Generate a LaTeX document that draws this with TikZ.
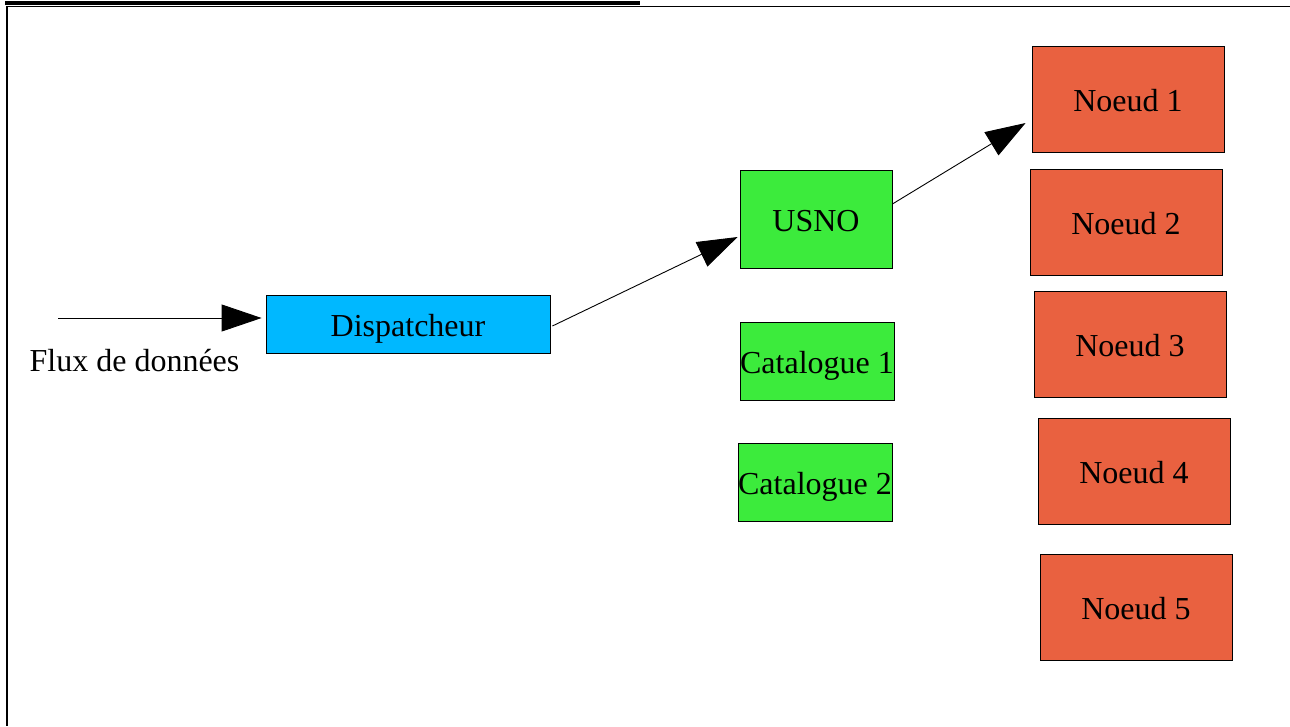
\documentclass[tikz,border=0pt]{standalone}
\usepackage{fontspec}
\setmainfont{Liberation Serif}
\usetikzlibrary{arrows.meta}
\definecolor{dispblue}{HTML}{00B8FF}
\definecolor{catgreen}{HTML}{3CEB3C}
\definecolor{noeudred}{HTML}{E96140}
\begin{document}
\begin{tikzpicture}[x=1pt,y=-1pt,
  box/.style={draw=black, line width=0.8pt, inner sep=0pt, text height=24pt, text depth=0pt, font=\fontsize{32}{38}\selectfont},
  dispbox/.style={box, fill=dispblue, minimum width=284pt, minimum height=58pt},
  catbox/.style={box, fill=catgreen, minimum width=152pt},
  noeudbox/.style={box, fill=noeudred, minimum width=192pt, minimum height=106pt},
  conn/.style={line width=0.9pt, -{Triangle[length=40pt,width=27pt]}},
  label/.style={inner sep=0pt, font=\fontsize{32}{38}\selectfont}]
\useasboundingbox (0,0) rectangle (1290,726);
% frame
\draw[line width=3.5pt] (5,3) -- (640,3);
\draw[line width=1.8pt] (6,6.5) -- (1290,6.5);
\draw[line width=2.4pt] (7,6) -- (7,726);
% nodes
\node[dispbox] (disp) at (408,324) {Dispatcheur};
\node[catbox, minimum height=98pt] (usno) at (816,219) {USNO};
\node[catbox, minimum width=154pt, minimum height=78pt] (cat1) at (817,361) {Catalogue 1};
\node[catbox, minimum width=154pt, minimum height=78pt] (cat2) at (815,482) {Catalogue 2};
\node[noeudbox] (n1) at (1128,99) {Noeud 1};
\node[noeudbox] (n2) at (1126,222) {Noeud 2};
\node[noeudbox] (n3) at (1130,344) {Noeud 3};
\node[noeudbox] (n4) at (1134,471) {Noeud 4};
\node[noeudbox] (n5) at (1136,607) {Noeud 5};
\node[label] (flux) at (134.5,361) {Flux de données};
\coordinate (fluxstart) at (58,318);
% connectors
\draw[conn] (fluxstart) -- ([shift={(-4,-6)}]disp.west);
\draw[conn] ([shift={(2,2)}]disp.east) -- ([shift={(-2,18)}]usno.west);
\draw[conn] ([shift={(0,-15)}]usno.east) -- ([shift={(-6,24)}]n1.west);
\end{tikzpicture}
\end{document}
